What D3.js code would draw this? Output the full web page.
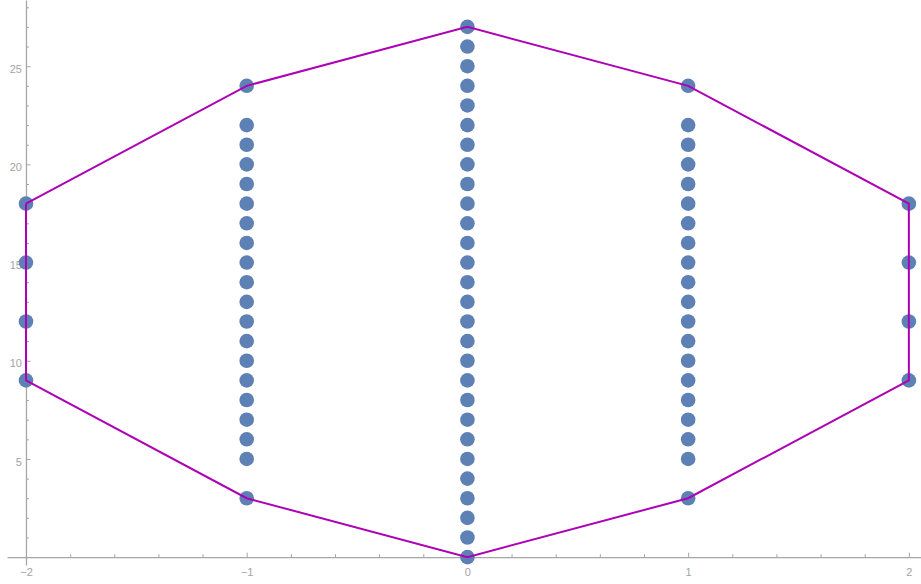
<!DOCTYPE html>
<html>
<head>
<meta charset="utf-8">
<script src="https://cdn.jsdelivr.net/npm/d3@7"></script>
<style>
  body { margin: 0; background: #fff; }
  svg { display: block; font-family: "DejaVu Sans", sans-serif; }
</style>
</head>
<body>
<svg id="chart"></svg>
<script>
// points, one list per x column
const colX = [-2, -1, 0, 1, 2];
const colY = [
  [9, 12, 15, 18],
  [3, 5, 6, 7, 8, 9, 10, 11, 12, 13, 14, 15, 16, 17, 18, 19, 20, 21, 22, 24],
  [0, 1, 2, 3, 4, 5, 6, 7, 8, 9, 10, 11, 12, 13, 14, 15, 16, 17, 18, 19, 20, 21, 22, 23, 24, 25, 26, 27],
  [3, 5, 6, 7, 8, 9, 10, 11, 12, 13, 14, 15, 16, 17, 18, 19, 20, 21, 22, 24],
  [9, 12, 15, 18]
];

// outline polygon
const hullX = [-2, -1, 0, 1, 2, 2, 1, 0, -1, -2, -2];
const hullY = [18, 24, 27, 24, 18, 9, 3, 0, 3, 9, 18];

const xMajor = [-2, -1, 0, 1, 2];
const yMajor = [5, 10, 15, 20, 25];

const W = 921, H = 584;
const svg = d3.select("#chart").attr("width", W).attr("height", H);

const x = d3.scaleLinear().domain([-2.086, 2.055]).range([7, 921]);
const y = d3.scaleLinear().domain([-0.4, 28.37]).range([565, 0]);

const axisColor = "#a6a6a6";
const labelColor = "#a3a3a3";

// minor ticks
const xMinor = d3.range(-20, 21, 2).map(d => d / 10).filter(d => xMajor.indexOf(d) < 0);
const yMinor = d3.range(1, 29).filter(d => yMajor.indexOf(d) < 0);

const gx = svg.append("g").attr("transform", `translate(0,${y(0)})`);
gx.call(d3.axisBottom(x).tickValues(xMinor).tickSize(-3).tickSizeOuter(0).tickFormat(""));
gx.append("g").call(d3.axisBottom(x).tickValues(xMajor).tickSize(-4.5).tickSizeOuter(0)
    .tickPadding(11).tickFormat(d => d < 0 ? "\u2212" + (-d) : d))
  .select(".domain").remove();

const gy = svg.append("g").attr("transform", `translate(${x(-2)},0)`);
gy.call(d3.axisLeft(y).tickValues(yMinor).tickSize(-3).tickSizeOuter(0).tickFormat(""));
gy.append("g").call(d3.axisLeft(y).tickValues(yMajor).tickSize(-4.5).tickSizeOuter(0).tickPadding(4))
  .select(".domain").remove();

svg.selectAll(".domain").attr("stroke", axisColor).attr("stroke-width", 1.3);
svg.selectAll(".tick line").attr("stroke", axisColor);
svg.selectAll(".tick text").style("fill", labelColor).style("font-size", "11px");
gy.selectAll(".tick text").attr("dy", "0.55em");

// dots
const pts = [];
colX.forEach((cx, i) => colY[i].forEach(v => pts.push({x: cx, y: v})));

svg.append("g").selectAll("circle")
  .data(pts)
  .join("circle")
  .attr("cx", d => x(d.x))
  .attr("cy", d => y(d.y))
  .attr("r", 7.3)
  .attr("fill", "#5e81b5");

// outline
const line = d3.line().x(d => x(d[0])).y(d => y(d[1]));
svg.append("path")
  .datum(hullX.map((v, i) => [v, hullY[i]]))
  .attr("d", line)
  .attr("fill", "none")
  .attr("stroke", "#ad00b5")
  .attr("stroke-width", 2)
  .attr("stroke-linejoin", "miter");
</script>
</body>
</html>
